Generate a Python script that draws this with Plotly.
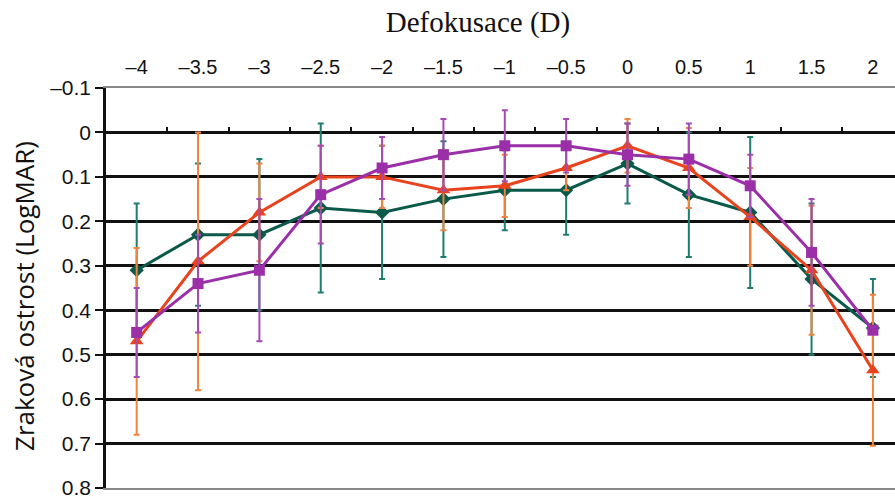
import plotly.graph_objects as go

# Data
defocus = [-4, -3.5, -3, -2.5, -2, -1.5, -1, -0.5, 0, 0.5, 1, 1.5, 2]
x_ticktext = ["–4", "–3.5", "–3", "–2.5", "–2", "–1.5", "–1", "–0.5", "0", "0.5", "1", "1.5", "2"]
y_tickvals = [-0.1, 0, 0.1, 0.2, 0.3, 0.4, 0.5, 0.6, 0.7, 0.8]
y_ticktext = ["–0.1", "0", "0.1", "0.2", "0.3", "0.4", "0.5", "0.6", "0.7", "0.8"]
between_ticks = [-3.75, -3.25, -2.75, -2.25, -1.75, -1.25, -0.75, -0.25, 0.25, 0.75, 1.25, 1.75]

green_vals = [0.31, 0.23, 0.23, 0.17, 0.18, 0.15, 0.13, 0.13, 0.07, 0.14, 0.18, 0.33, 0.44]
green_err = [0.15, 0.16, 0.17, 0.19, 0.15, 0.13, 0.09, 0.10, 0.09, 0.14, 0.17, 0.17, 0.11]

orange_vals = [0.47, 0.29, 0.18, 0.10, 0.10, 0.13, 0.12, 0.08, 0.03, 0.08, 0.19, 0.31, 0.535]
orange_err = [0.21, 0.29, 0.11, 0.07, 0.07, 0.09, 0.07, 0.05, 0.06, 0.09, 0.11, 0.145, 0.17]

purple_vals = [0.45, 0.34, 0.31, 0.14, 0.08, 0.05, 0.03, 0.03, 0.05, 0.06, 0.12, 0.27, 0.445]
purple_err = [0.10, 0.11, 0.16, 0.11, 0.07, 0.08, 0.08, 0.06, 0.07, 0.08, 0.07, 0.12, 0.0]

series = [
    ("green", green_vals, green_err, "#0b5a49", "#1f7d70", "diamond", 11),
    ("orange", orange_vals, orange_err, "#e8431c", "#f0843f", "triangle-up", 12),
    ("purple", purple_vals, purple_err, "#9a2fa8", "#a64ab4", "square", 11),
]

fig = go.Figure()
for name, vals, err, col, ecol, sym, size in series:
    fig.add_trace(go.Scatter(
        x=defocus, y=vals, name=name, mode="lines+markers",
        line=dict(color=col, width=3),
        marker=dict(symbol=sym, size=size, color=col),
        error_y=dict(type="data", array=err, visible=True, color=ecol, thickness=2, width=3),
        showlegend=False,
    ))

# invisible trace for the between-category tick axis
fig.add_trace(go.Scatter(x=[defocus[0]], y=[0], xaxis="x2", mode="markers",
                         marker=dict(opacity=0), showlegend=False, hoverinfo="skip"))

xr = [-4.25, 2.18]
yr = [0.8, -0.1]

W, H = 895, 499
fig.update_layout(
    width=W, height=H,
    margin=dict(l=106, r=0, t=88, b=11),
    plot_bgcolor="white", paper_bgcolor="white",
    title=dict(text="Defokusace (D)", x=478 / W, xanchor="center", y=1 - 22 / H, yanchor="middle",
               font=dict(family="Liberation Serif", size=29, color="#111")),
    xaxis=dict(
        range=xr, side="top", tickvals=defocus, ticktext=x_ticktext,
        showgrid=False, zeroline=False, ticks="", automargin=False,
        showline=True, linecolor="#8a8a8a", linewidth=2, mirror=True,
        tickfont=dict(family="Liberation Sans", size=20, color="#111"),
        ticklabelstandoff=4, ticklabeloverflow="allow",
    ),
    xaxis2=dict(
        range=xr, overlaying="x", anchor="free", position=0.8 / 0.9, side="top",
        tickvals=between_ticks, showticklabels=False, ticks="outside",
        ticklen=5, tickwidth=2, tickcolor="#111", automargin=False,
        showgrid=False, zeroline=False, showline=False,
    ),
    yaxis=dict(
        range=yr, tickvals=y_tickvals, ticktext=y_ticktext, automargin=False,
        showgrid=True, gridcolor="#111", gridwidth=2.5, zeroline=False,
        showline=True, linecolor="#111", linewidth=2.5,
        ticks="outside", ticklen=8, tickwidth=2, tickcolor="#111",
        tickfont=dict(family="Liberation Sans", size=21, color="#111"),
        ticklabeloverflow="allow",
    ),
    annotations=[dict(
        text="Zraková ostrost (LogMAR)", textangle=-90,
        xref="paper", yref="paper", x=(24 - 106) / 789, y=1 - (296 - 88) / 400,
        xanchor="center", yanchor="middle", showarrow=False,
        font=dict(family="Open Sans", size=26, color="#111"),
    )],
)

fig.write_html("out.html", config={"displayModeBar": False},
               post_script="document.body.style.margin='0';")
